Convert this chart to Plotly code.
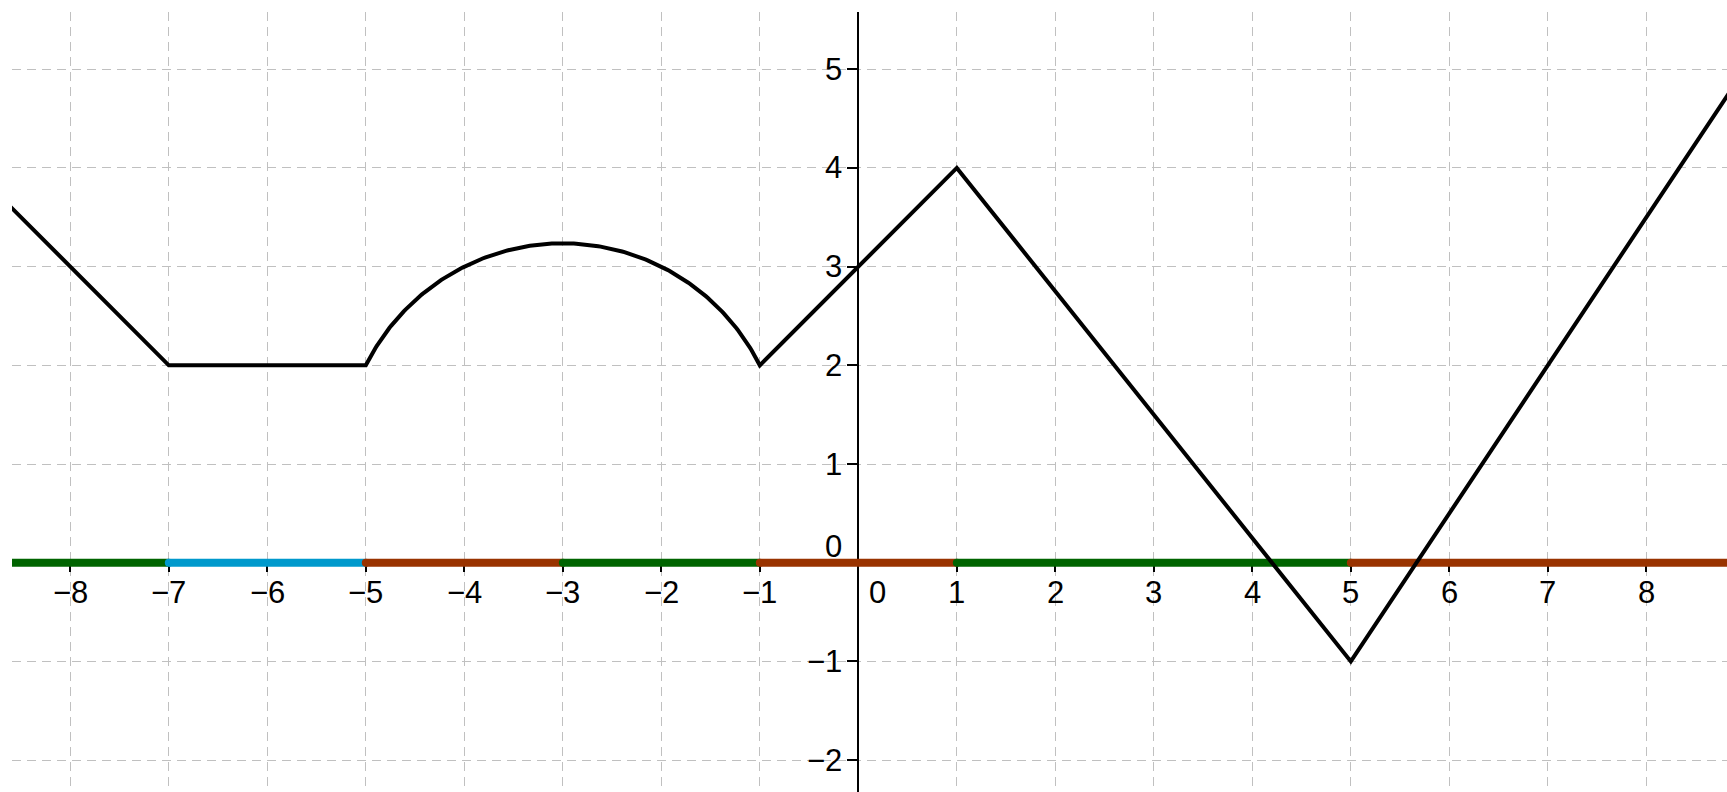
import numpy as np
import plotly.graph_objects as go

# Visible window (graph units)
x_range = [-8.592, 8.819]
y_range = [-2.323, 5.580]

# Piecewise-linear parts of f: vertices
left_x = [-9, -7, -5]
left_y = [4, 2, 2]
right_x = [-1, 1, 5, 9]
right_y = [2, 4, -1, 5]

# Circular arc on [-5, -1]: centre (-3, 1), radius sqrt(5)
arc_center = (-3, 1)
arc_radius = np.sqrt(5)
arc_start, arc_end = -5, -1

# Coloured intervals on the x-axis
band_edges = [-9, -7, -5, -3, -1, 1, 5, 9]
band_colors = ["#006400", "#0099cc", "#993300", "#006400", "#993300", "#006400", "#993300"]

x_ticks = [-8, -7, -6, -5, -4, -3, -2, -1, 1, 2, 3, 4, 5, 6, 7, 8]
y_ticks = [-2, -1, 1, 2, 3, 4, 5]

FONT = "Liberation Sans, Arial, sans-serif"
LABEL_SIZE = 31

# sample the arc
cx, cy = arc_center
a0 = np.arctan2(left_y[-1] - cy, arc_start - cx)
a1 = np.arctan2(right_y[0] - cy, arc_end - cx)
theta = np.linspace(a0, a1, 200)
arc_x = cx + arc_radius * np.cos(theta)
arc_y = cy + arc_radius * np.sin(theta)

fx = list(left_x) + list(arc_x[1:-1]) + list(right_x)
fy = list(left_y) + list(arc_y[1:-1]) + list(right_y)

fig = go.Figure()

for i, col in enumerate(band_colors):
    x0, x1 = band_edges[i], band_edges[i + 1]
    fig.add_trace(go.Scatter(
        x=[x0, x1], y=[0, 0], mode="lines",
        line=dict(color=col, width=8),
        hoverinfo="skip", showlegend=False,
    ))
    # rounded cap at the start of each interval
    fig.add_trace(go.Scatter(
        x=[x0], y=[0], mode="markers",
        marker=dict(color=col, size=8, line=dict(width=0)),
        hoverinfo="skip", showlegend=False, cliponaxis=True,
    ))

fig.add_trace(go.Scatter(
    x=fx, y=fy, mode="lines",
    line=dict(color="black", width=4),
    hoverinfo="skip", showlegend=False,
))

grid_all_x = list(range(-9, 10))
grid_all_y = list(range(-3, 7))

px_pos = (0 - x_range[0]) / (x_range[1] - x_range[0])
py_pos = (0 - y_range[0]) / (y_range[1] - y_range[0])

annotations = []
for v in x_ticks:
    annotations.append(dict(
        x=v, y=0, xref="x", yref="y", text=str(v).replace("-", "\u2212"),
        showarrow=False, xanchor="center", yanchor="middle", yshift=-30,
        font=dict(family=FONT, size=LABEL_SIZE, color="black"),
    ))
annotations.append(dict(
    x=0, y=0, xref="x", yref="y", text="0", showarrow=False,
    xanchor="left", yanchor="middle", xshift=9, yshift=-30,
    font=dict(family=FONT, size=LABEL_SIZE, color="black"),
))
for v in y_ticks:
    annotations.append(dict(
        x=0, y=v, xref="x", yref="y", text=str(v).replace("-", "\u2212"),
        showarrow=False, xanchor="right", yanchor="middle", xshift=-14,
        font=dict(family=FONT, size=LABEL_SIZE, color="black"),
    ))
annotations.append(dict(
    x=0, y=0, xref="x", yref="y", text="0", showarrow=False,
    xanchor="right", yanchor="middle", xshift=-14, yshift=16,
    font=dict(family=FONT, size=LABEL_SIZE, color="black"),
))

fig.update_layout(
    width=1727, height=792,
    margin=dict(l=12, r=0, t=12, b=0, pad=0),
    paper_bgcolor="white", plot_bgcolor="white",
    annotations=annotations,
    xaxis=dict(
        range=x_range, anchor="free", position=py_pos,
        tickmode="array", tickvals=grid_all_x, showticklabels=False,
        showgrid=True, gridcolor="#c0c0c0", gridwidth=1.2, griddash="9px,6px",
        zeroline=False, showline=True, linecolor="black", linewidth=2,
        ticks="outside", ticklen=8, tickwidth=2, tickcolor="black",
        layer="below traces", fixedrange=True,
    ),
    yaxis=dict(
        range=y_range, anchor="free", position=px_pos,
        tickmode="array", tickvals=grid_all_y, showticklabels=False,
        showgrid=True, gridcolor="#c0c0c0", gridwidth=1.2, griddash="9px,6px",
        zeroline=False, showline=True, linecolor="black", linewidth=2,
        ticks="outside", ticklen=10, tickwidth=2, tickcolor="black",
        layer="below traces", fixedrange=True,
    ),
)

fig.write_html("out.html")
